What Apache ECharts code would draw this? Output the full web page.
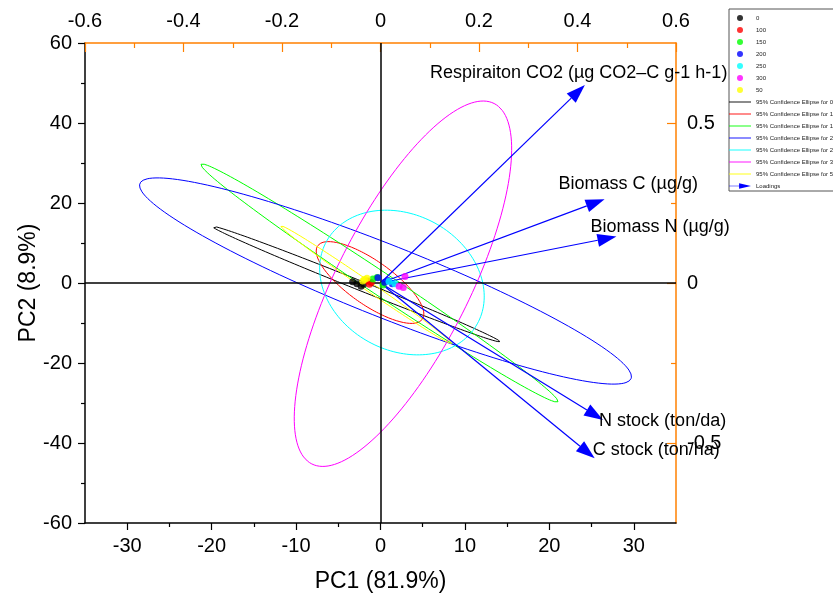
<!DOCTYPE html>
<html><head><meta charset="utf-8">
<title>PCA biplot</title>
<script src="https://cdn.jsdelivr.net/npm/echarts@6/dist/echarts.min.js"></script>
<style>html,body{margin:0;padding:0;background:#fff}#main{width:833px;height:596px}</style>
</head><body>
<div id="main"></div>
<script>
// groups in legend order
var groups = ['0', '100', '150', '200', '250', '300', '50'];

// PC1 / PC2 scores per group
var scores0   = [[-3.3, 0.3], [-2.8, -0.2], [-2.3, -0.8], [-2.0, -0.3]];
var scores100 = [[-1.5, 0.5], [-1.1, 0.1], [-1.3, -0.3]];
var scores150 = [[-0.9, 1.0], [-0.4, 1.4], [0.3, -0.5]];
var scores200 = [[-0.3, 1.3], [0.9, 0.6], [1.4, -0.2], [0.5, 0.2]];
var scores250 = [[1.0, 0.4], [1.7, -0.2]];
var scores300 = [[2.9, 1.6], [2.2, -0.8], [2.7, -1.1]];
var scores50  = [[-1.9, 0.9], [-1.6, 1.2], [-2.1, 0.5]];

// 95% confidence ellipses: centre and two conjugate semi-diameters (PC units)
var ellipseCenter = [[-2.9, -0.25], [-1.24, 0.12], [-0.12, 0], [0.59, 0.5], [2.54, 0.12], [2.66, -0.18], [-1.69, -0.43]];
var ellipseU = [[17.03, -14.4], [6.2, -9.18], [21.14, -29.68], [29.09, -24.38], [9.7, -1.75], [10.8, 45.05], [10.11, -14.68]];
var ellipseV = [[-0.2, -1.1], [-1.49, -4.5], [-0.75, -2.4], [-1.57, -8.37], [0.95, -18.0], [7.01, -7.53], [-0.30, -0.93]];

// loadings
var loadingNames = ['Respiraiton CO2 (µg CO2–C g-1 h-1)', 'Biomass C (µg/g)', 'Biomass N (µg/g)', 'N stock (ton/da)', 'C stock (ton/ha)'];
var loadingPC1 = [0.415, 0.455, 0.479, 0.452, 0.435];
var loadingPC2 = [0.619, 0.262, 0.145, -0.428, -0.548];

// tick labels
var xTicks = [-30, -20, -10, 0, 10, 20, 30];
var xMinorTicks = [-25, -15, -5, 5, 15, 25];
var y2Ticks = [-0.5, 0, 0.5];
var y2MinorTicks = [-0.25, 0.25];

var colors = ['#000000', '#ff0000', '#00ff00', '#0000ff', '#00ffff', '#ff00ff', '#ffff00'];
var labelOffset = [[-155, -12], [-46, -15], [-26, -10], [-4, 1], [-2, -8]];
var FONT = '"Liberation Sans", Arial, sans-serif';
var ORANGE = '#ff8000';

var scores = [scores0, scores100, scores150, scores200, scores250, scores300, scores50];

function ellipsePoints(c, u, v) {
  var pts = [];
  for (var i = 0; i <= 160; i++) {
    var t = i / 160 * 2 * Math.PI;
    pts.push([c[0] + u[0] * Math.cos(t) + v[0] * Math.sin(t),
              c[1] + u[1] * Math.cos(t) + v[1] * Math.sin(t)]);
  }
  return pts;
}

var series = [];
var legendData = [];

groups.forEach(function (g, i) {
  legendData.push(g);
  var s = {
    name: g, type: 'scatter', data: scores[i], symbolSize: 7, z: 5,
    itemStyle: { color: colors[i] }
  };
  if (i === 0) {
    s.markLine = {
      silent: true, symbol: ['none', 'none'], label: { show: false },
      lineStyle: { color: '#000', width: 1.5, type: 'solid' },
      data: [{ xAxis: 0 }, { yAxis: 0 }], animation: false
    };
  }
  series.push(s);
});

groups.forEach(function (g, i) {
  var name = '95% Confidence Ellipse for ' + g;
  legendData.push({ name: name, icon: 'path://M0,2.5L24,2.5L24,3.5L0,3.5Z' });
  series.push({
    name: name, type: 'line', symbol: 'none', smooth: false, z: 3,
    data: ellipsePoints(ellipseCenter[i], ellipseU[i], ellipseV[i]),
    lineStyle: { color: colors[i], width: 1 },
    itemStyle: { color: colors[i] }
  });
});

legendData.push({ name: 'Loadings', icon: 'path://M0,2.6L11,2.6L11,0L24,3L11,6L11,3.4L0,3.4Z' });
series.push({
  name: 'Loadings', type: 'custom', coordinateSystem: 'cartesian2d',
  xAxisIndex: 1, yAxisIndex: 1, z: 4,
  itemStyle: { color: '#0000ff' },
  data: loadingPC1.map(function (x, i) { return [x, loadingPC2[i]]; }),
  renderItem: function (params, api) {
    var tip = api.coord([api.value(0), api.value(1)]);
    var o = api.coord([0, 0]);
    var dx = tip[0] - o[0], dy = tip[1] - o[1];
    var len = Math.sqrt(dx * dx + dy * dy);
    var ux = dx / len, uy = dy / len, hl = 19, hw = 6.5;
    var bx = tip[0] - ux * hl, by = tip[1] - uy * hl;
    var off = labelOffset[params.dataIndex];
    return {
      type: 'group',
      children: [
        { type: 'line', shape: { x1: o[0], y1: o[1], x2: bx, y2: by }, style: { stroke: '#0000ff', lineWidth: 1.2 } },
        { type: 'polygon', shape: { points: [tip, [bx - uy * hw, by + ux * hw], [bx + uy * hw, by - ux * hw]] }, style: { fill: '#0000ff' } },
        { type: 'text', x: tip[0] + off[0], y: tip[1] + off[1],
          style: { text: loadingNames[params.dataIndex], fill: '#000', font: '18px ' + FONT, align: 'left', verticalAlign: 'middle' } }
      ]
    };
  }
});

var chart = echarts.init(document.getElementById('main'));
chart.setOption({
  animation: false,
  backgroundColor: '#fff',
  grid: { left: 85, right: 157, top: 43, bottom: 73, outerBoundsMode: 'none' },
  legend: {
    data: legendData, orient: 'vertical', left: 729, top: 9,
    padding: [6, 120, 2, 0], itemWidth: 22, itemHeight: 6, itemGap: 6,
    selectedMode: false, backgroundColor: '#fff', borderColor: '#555', borderWidth: 1,
    textStyle: { fontSize: 6, fontFamily: FONT, color: '#222' }
  },
  xAxis: [
    {
      type: 'value', position: 'bottom', min: -35, max: 35,
      name: 'PC1 (81.9%)', nameLocation: 'middle', nameGap: 47, nameMoveOverlap: false,
      nameTextStyle: { fontSize: 23, fontFamily: FONT, color: '#000' },
      axisLine: { onZero: false, lineStyle: { color: '#000', width: 1.5 } },
      axisTick: { customValues: xTicks, length: 7, lineStyle: { color: '#000', width: 1.2 } },
      axisLabel: { customValues: xTicks, fontSize: 20, fontFamily: FONT, color: '#000', margin: 13 },
      splitLine: { show: false }
    },
    {
      type: 'value', position: 'top', min: -0.6, max: 0.6, interval: 0.2,
      axisLine: { onZero: false, lineStyle: { color: ORANGE, width: 1.5 } },
      axisTick: { inside: true, length: 9, lineStyle: { color: ORANGE, width: 1.2 } },
      minorTick: { show: true, splitNumber: 2, length: 5, lineStyle: { color: ORANGE, width: 1.2 } },
      axisLabel: { fontSize: 20, fontFamily: FONT, color: '#000', margin: 12 },
      splitLine: { show: false }
    },
    {
      type: 'value', position: 'bottom', min: -35, max: 35,
      axisLine: { show: false, onZero: false },
      axisTick: { customValues: xMinorTicks, length: 4, lineStyle: { color: '#000', width: 1.2 } },
      axisLabel: { show: false },
      splitLine: { show: false }
    }
  ],
  yAxis: [
    {
      type: 'value', position: 'left', min: -60, max: 60, interval: 20,
      name: 'PC2 (8.9%)', nameLocation: 'middle', nameGap: 45, nameMoveOverlap: false,
      nameTextStyle: { fontSize: 23, fontFamily: FONT, color: '#000' },
      axisLine: { onZero: false, lineStyle: { color: '#000', width: 1.5 } },
      axisTick: { length: 7, lineStyle: { color: '#000', width: 1.2 } },
      minorTick: { show: true, splitNumber: 2, length: 4, lineStyle: { color: '#000', width: 1.2 } },
      axisLabel: { fontSize: 20, fontFamily: FONT, color: '#000', margin: 13 },
      splitLine: { show: false }
    },
    {
      type: 'value', position: 'right', min: -0.75, max: 0.75,
      axisLine: { onZero: false, lineStyle: { color: ORANGE, width: 1.5 } },
      axisTick: { inside: true, customValues: y2Ticks, length: 9, lineStyle: { color: ORANGE, width: 1.2 } },
      axisLabel: { customValues: y2Ticks, fontSize: 20, fontFamily: FONT, color: '#000', margin: 11 },
      splitLine: { show: false }
    },
    {
      type: 'value', position: 'right', min: -0.75, max: 0.75,
      axisLine: { show: false, onZero: false },
      axisTick: { inside: true, customValues: y2MinorTicks, length: 5, lineStyle: { color: ORANGE, width: 1.2 } },
      axisLabel: { show: false },
      splitLine: { show: false }
    }
  ],
  series: series
});
</script>
</body></html>
